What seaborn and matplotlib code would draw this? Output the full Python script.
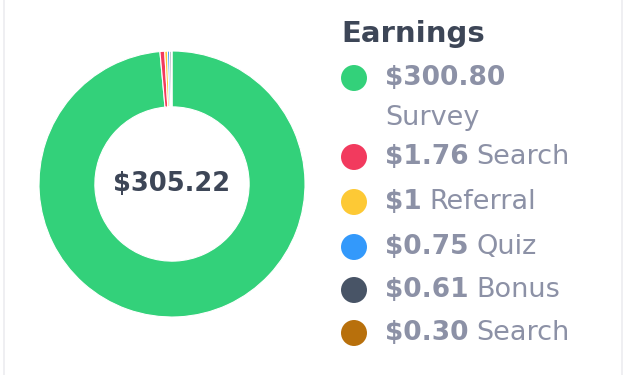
import matplotlib
matplotlib.use("Agg")
import matplotlib.pyplot as plt
import seaborn as sns

# dados do gráfico
amounts = [300.80, 1.76, 1.00, 0.75, 0.61, 0.30]
amount_labels = ["$300.80", "$1.76", "$1", "$0.75", "$0.61", "$0.30"]
categories = ["Survey", "Search", "Referral", "Quiz", "Bonus", "Search"]
colors = ["#33d17a", "#f23a5e", "#fdc935", "#3399fb", "#485466", "#b8700c"]
total_label = "$305.22"
title = "Earnings"

sns.set_theme(style="white")
plt.rcParams['font.family'] = ['DejaVu Sans']

W, H = 625, 375
fig = plt.figure(figsize=(W / 100, H / 100), dpi=100)
fig.patch.set_facecolor("white")

# rosca
cx, cy, r = 172, 184, 133
ax = fig.add_axes([(cx - r) / W, (H - cy - r) / H, 2 * r / W, 2 * r / H])
ax.pie(amounts, colors=colors, startangle=90, counterclock=False, radius=1,
       wedgeprops=dict(width=0.42, edgecolor="white", linewidth=0.8))
ax.set_xlim(-1, 1)
ax.set_ylim(-1, 1)
ax.set_aspect("equal")
ax.axis("off")
ax.text(0, 0, total_label, ha="center", va="center", fontsize=18.5,
        fontweight="bold", color="#3d4657")

# legenda desenhada em coordenadas de pixel
lg = fig.add_axes([0, 0, 1, 1], facecolor="none")
lg.set_xlim(0, W)
lg.set_ylim(H, 0)
lg.axis("off")
lg.axvline(4, color="#ececf0", lw=1.2)
lg.axvline(622, color="#ececf0", lw=1.2)

lg.text(341, 34, title, ha="left", va="center", fontsize=21, fontweight="bold",
        color="#3d4657")

text_gray = "#8c91a6"
rows_y = [78, 157, 202, 247, 290, 333]
sns.scatterplot(x=[354] * len(rows_y), y=rows_y, hue=list(range(len(rows_y))),
                palette=colors, s=350, linewidth=0, legend=False, ax=lg)

fig.canvas.draw()
renderer = fig.canvas.get_renderer()
for i, (amt, cat, y) in enumerate(zip(amount_labels, categories, rows_y)):
    t = lg.text(385, y, amt, ha="left", va="center", fontsize=19,
                fontweight="bold", color=text_gray)
    if i == 0:
        # a primeira categoria quebra para a linha seguinte
        lg.text(385, y + 40, cat, ha="left", va="center", fontsize=19.5,
                color=text_gray)
    else:
        bb = t.get_window_extent(renderer)
        lg.text(bb.x1 + 8, H - y, cat, ha="left", va="center", fontsize=19.5,
                color=text_gray, transform=None)

lg.set_xlim(0, W)
lg.set_ylim(H, 0)

fig.savefig("out.png", dpi=100)
